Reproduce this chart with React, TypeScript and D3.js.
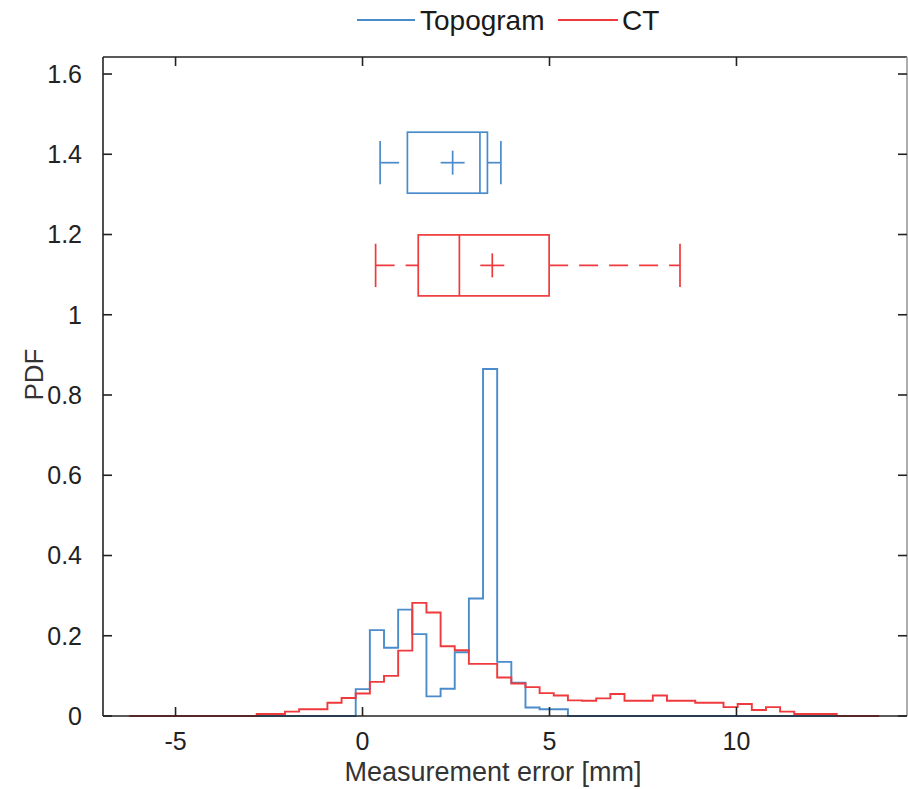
import React from 'react';
import * as d3 from 'd3';

// histogram bins (shared edges)
const binStart = -6.235;
const binWidth = 0.3783;

const ctDensity = [
  0, 0, 0, 0, 0, 0, 0, 0, 0,
  0.005, 0.005, 0.011, 0.017, 0.017, 0.033, 0.045, 0.056, 0.085, 0.1,
  0.163, 0.282, 0.258, 0.174, 0.164, 0.13, 0.13, 0.096, 0.081, 0.072,
  0.057, 0.051, 0.039, 0.038, 0.044, 0.055, 0.038, 0.038, 0.051, 0.038,
  0.038, 0.033, 0.033, 0.022, 0.03, 0.015, 0.022, 0.011, 0.005, 0.005,
  0.005, 0, 0, 0
];

const topoFirstBin = 9;
const topoDensity = [
  0, 0, 0, 0, 0, 0, 0,
  0.067, 0.214, 0.17, 0.265, 0.204, 0.049, 0.068, 0.159, 0.293, 0.865,
  0.135, 0.083, 0.021, 0.017, 0.017,
  0, 0, 0, 0, 0, 0, 0, 0, 0, 0, 0, 0, 0, 0, 0, 0, 0, 0, 0
];

// box plot statistics [mm]
const boxNames = ['Topogram', 'CT'];
const boxLevel = [1.379, 1.123];
const boxMin = [0.47, 0.35];
const boxQ1 = [1.2, 1.49];
const boxMedian = [3.14, 2.59];
const boxQ3 = [3.34, 4.99];
const boxMax = [3.7, 8.49];
const boxMean = [2.41, 3.47];

const xTicks = [-5, 0, 5, 10];
const yTicks = [0, 0.2, 0.4, 0.6, 0.8, 1, 1.2, 1.4, 1.6];

const colors = ['#4a8ccb', '#ee3a3c'];
const axisColor = '#222';
const font = '"Liberation Sans", Arial, Helvetica, sans-serif';

const W = 908;
const H = 789;
const plot = { left: 103, right: 907, top: 57, bottom: 716 };

const x = d3.scaleLinear().domain([-6.94, 14.56]).range([plot.left, plot.right]);
const y = d3.scaleLinear().domain([0, 1.6424]).range([plot.bottom, plot.top]);

const stairPath = (values: number[], firstBin: number) => {
  const pts: [number, number][] = [];
  const e0 = binStart + firstBin * binWidth;
  pts.push([e0, 0]);
  values.forEach((v, i) => {
    pts.push([e0 + i * binWidth, v]);
    pts.push([e0 + (i + 1) * binWidth, v]);
  });
  pts.push([e0 + values.length * binWidth, 0]);
  return d3.line<[number, number]>().x((d) => x(d[0])).y((d) => y(d[1]))(pts) || '';
};

const BoxPlot = ({ i }: { i: number }) => {
  const c = colors[i];
  const yc = y(boxLevel[i]);
  const boxHalf = y(0) - y(0.076);
  const capHalf = y(0) - y(0.054);
  const plus = 12;
  return (
    <g stroke={c} strokeWidth={1.7} fill="none">
      <line x1={x(boxMin[i])} x2={x(boxQ1[i])} y1={yc} y2={yc} strokeDasharray="19,11" />
      <line x1={x(boxQ3[i])} x2={x(boxMax[i])} y1={yc} y2={yc} strokeDasharray="19,11" />
      <line x1={x(boxMin[i])} x2={x(boxMin[i])} y1={yc - capHalf} y2={yc + capHalf} />
      <line x1={x(boxMax[i])} x2={x(boxMax[i])} y1={yc - capHalf} y2={yc + capHalf} />
      <rect x={x(boxQ1[i])} y={yc - boxHalf} width={x(boxQ3[i]) - x(boxQ1[i])} height={boxHalf * 2} />
      <line x1={x(boxMedian[i])} x2={x(boxMedian[i])} y1={yc - boxHalf} y2={yc + boxHalf} />
      <line x1={x(boxMean[i]) - plus} x2={x(boxMean[i]) + plus} y1={yc} y2={yc} />
      <line x1={x(boxMean[i])} x2={x(boxMean[i])} y1={yc - plus} y2={yc + plus} />
    </g>
  );
};

export default function App() {
  const tick = 9;
  return (
    <div>
      <style>{'body{margin:0}'}</style>
      <svg width={W} height={H} style={{ display: 'block', background: '#fff' }} fontFamily={font}>
        {/* histograms */}
        <path d={stairPath(topoDensity, topoFirstBin)} fill="none" stroke={colors[0]} strokeWidth={1.9} />
        <path d={stairPath(ctDensity, 0)} fill="none" stroke={colors[1]} strokeWidth={1.9} />

        {/* box plots */}
        {boxNames.map((n, i) => <BoxPlot key={n} i={i} />)}

        {/* axes box */}
        <g stroke={axisColor} strokeWidth={1.6} fill="none">
          <line x1={plot.left} x2={plot.right} y1={plot.bottom} y2={plot.bottom} />
          <line x1={plot.left} x2={plot.right} y1={plot.top} y2={plot.top} />
          <line x1={plot.left} x2={plot.left} y1={plot.top} y2={plot.bottom} />
          <line x1={plot.right} x2={plot.right} y1={plot.top} y2={plot.bottom} stroke="#999" />
          {xTicks.map((t) => (
            <g key={'x' + t}>
              <line x1={x(t)} x2={x(t)} y1={plot.bottom} y2={plot.bottom - tick} />
              <line x1={x(t)} x2={x(t)} y1={plot.top} y2={plot.top + tick} />
            </g>
          ))}
          {yTicks.map((t) => (
            <g key={'y' + t}>
              <line x1={plot.left} x2={plot.left + tick} y1={y(t)} y2={y(t)} />
              <line x1={plot.right} x2={plot.right - tick} y1={y(t)} y2={y(t)} />
            </g>
          ))}
        </g>

        {/* tick labels */}
        <g fill={axisColor} fontSize={25}>
          {xTicks.map((t) => (
            <text key={'xl' + t} x={x(t)} y={plot.bottom + 34} textAnchor="middle">{t < 0 ? '-' + Math.abs(t) : t}</text>
          ))}
          {yTicks.map((t) => (
            <text key={'yl' + t} x={plot.left - 21} y={y(t)} dy="0.35em" textAnchor="end">{d3.format('~g')(t)}</text>
          ))}
        </g>

        {/* axis labels */}
        <text x={493} y={781} textAnchor="middle" fontSize={27} fill="#333">Measurement error [mm]</text>
        <text transform={`translate(43, ${(plot.top + plot.bottom) / 2 - 12}) rotate(-90)`} textAnchor="middle" fontSize={26} fill="#333">PDF</text>

        {/* legend */}
        <g fontSize={28} fill="#1a1a1a">
          <line x1={357} x2={415} y1={20} y2={20} stroke={colors[0]} strokeWidth={1.9} />
          <text x={420} y={30}>{boxNames[0]}</text>
          <line x1={558} x2={618} y1={20} y2={20} stroke={colors[1]} strokeWidth={1.9} />
          <text x={622} y={30}>{boxNames[1]}</text>
        </g>
      </svg>
    </div>
  );
}
